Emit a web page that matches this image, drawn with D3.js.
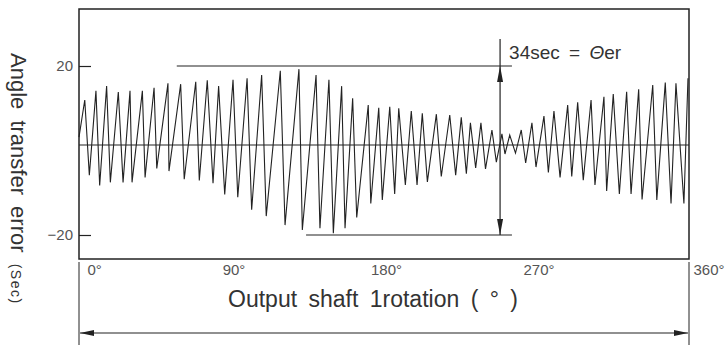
<!DOCTYPE html>
<html>
<head>
<meta charset="utf-8">
<script src="https://cdn.jsdelivr.net/npm/d3@7"></script>
<style>
  body { margin: 0; background: #fff; }
  svg { display: block; font-family: "Liberation Sans", Arial, sans-serif; }
</style>
</head>
<body>
<div id="chart"></div>
<script>
// rotation angle of the output shaft (deg)
const angles = [0, 3.4, 6.1, 10.0, 12.2, 16.3, 18.5, 23.2, 26.0, 30.1, 31.3, 37.4, 39.0, 44.3, 45.9,
  52.5, 53.1, 60.0, 62.1, 68.9, 71.0, 75.7, 79.1, 82.4, 86.0, 90.9, 93.7, 99.2, 101.9, 107.8,
  110.5, 118.8, 121.6, 129.8, 131.8, 139.9, 142.2, 147.5, 150.1, 155.0, 157.0, 161.5, 163.9,
  170.7, 172.2, 176.9, 179.0, 183.4, 186.3, 188.7, 192.6, 196.1, 199.5, 202.6, 205.6, 210.9,
  213.8, 218.8, 222.3, 225.6, 228.6, 231.0, 234.1, 237.2, 239.9, 243.7, 246.3, 249.6, 251.4,
  254.2, 257.6, 261.0, 263.6, 267.3, 269.7, 274.4, 277.0, 280.3, 283.9, 288.4, 290.8, 294.3,
  297.6, 302.2, 304.5, 309.8, 311.4, 315.3, 318.9, 323.2, 325.8, 330.3, 332.3, 338.6, 341.0,
  346.0, 349.4, 352.3, 357.0, 359.4];

// angle transfer error (sec)
const errors = [2.0, 11.4, -6.7, 13.7, -9.0, 14.9, -8.3, 13.4, -8.3, 13.7, -8.3, 13.7, -7.2, 14.5, -5.2,
  15.6, -5.8, 15.4, -7.6, 16.0, -7.9, 16.4, -8.5, 14.9, -11.0, 16.5, -11.6, 16.9, -14.4, 17.7,
  -15.8, 18.8, -17.8, 19.2, -18.9, 17.7, -18.5, 16.5, -19.6, 14.9, -18.5, 11.8, -16.1,
  10.1, -13.0, 9.4, -12.2, 9.7, -10.9, 9.3, -8.9, 8.6, -8.9, 8.0, -8.2, 7.8,
  -7.0, 7.6, -6.7, 7.0, -6.4, 5.6, -5.1, 5.6, -5.3, 3.8, -3.8, 2.8, -2.0,
  2.5, -1.8, 3.8, -4.0, 5.6, -4.9, 7.3, -6.1, 8.6, -7.2, 10.1, -7.0, 10.8,
  -7.8, 11.4, -8.9, 12.2, -10.2, 12.9, -10.9, 13.5, -10.9, 14.1, -12.1, 15.2, -12.2,
  15.8, -13.0, 15.6, -13.0, 16.9];

const xTicks = [0, 90, 180, 270, 360];
const yTicks = [-20, 20];
const errHigh = 20, errLow = -20;   // limits marked by the 34sec = Θer dimension
const errAngle = 248.5;             // where the dimension arrow sits

const width = 726, height = 353;
const box = {left: 79, right: 689, top: 9, bottom: 259};

const svg = d3.select("#chart").append("svg")
  .attr("width", width)
  .attr("height", height);

const x = d3.scaleLinear().domain([0, 360]).range([box.left, box.right]);
const y = d3.scaleLinear().domain([-20, 0, 20]).range([235, 145, 66]);

const ink = "#222";

const defs = svg.append("defs");
defs.append("marker")
  .attr("id", "head")
  .attr("viewBox", "0 0 14 6")
  .attr("refX", 14).attr("refY", 3)
  .attr("markerWidth", 14).attr("markerHeight", 6)
  .attr("markerUnits", "userSpaceOnUse")
  .attr("orient", "auto-start-reverse")
  .append("path")
  .attr("d", "M0,0 L14,3 L0,6 Z")
  .attr("fill", ink);
defs.append("marker")
  .attr("id", "headv")
  .attr("viewBox", "0 0 16 6")
  .attr("refX", 16).attr("refY", 3)
  .attr("markerWidth", 16).attr("markerHeight", 6)
  .attr("markerUnits", "userSpaceOnUse")
  .attr("orient", "auto-start-reverse")
  .append("path")
  .attr("d", "M0,0 L16,3 L0,6 Z")
  .attr("fill", ink);

// frame
svg.append("rect")
  .attr("x", box.left).attr("y", box.top)
  .attr("width", box.right - box.left).attr("height", box.bottom - box.top)
  .attr("fill", "none")
  .attr("stroke", ink)
  .attr("stroke-width", 1.5);

// y axis, ticks point inward
const yAxis = svg.append("g")
  .attr("transform", `translate(${box.left},0)`)
  .call(d3.axisLeft(y).tickValues(yTicks).tickSize(-12).tickPadding(6));
yAxis.select(".domain").remove();
yAxis.selectAll("line").attr("stroke", ink).attr("stroke-width", 1.2);
yAxis.selectAll("text")
  .attr("fill", "#555")
  .style("font-size", "15px")
  .style("font-family", "'Liberation Sans', Arial, sans-serif");

// zero line
svg.append("line")
  .attr("x1", box.left).attr("x2", box.right)
  .attr("y1", y(0)).attr("y2", y(0))
  .attr("stroke", ink).attr("stroke-width", 1.2);

// error curve
const line = d3.line()
  .x((d, i) => x(angles[i]))
  .y(d => y(d));
svg.append("path")
  .datum(errors)
  .attr("d", line)
  .attr("fill", "none")
  .attr("stroke", ink)
  .attr("stroke-width", 1.1)
  .attr("stroke-linejoin", "miter");

// dimension lines for the peak-to-peak error
svg.append("line")
  .attr("x1", x(57.7)).attr("x2", x(255.5))
  .attr("y1", y(errHigh)).attr("y2", y(errHigh))
  .attr("stroke", ink).attr("stroke-width", 1.2);
svg.append("line")
  .attr("x1", x(134)).attr("x2", x(255.5))
  .attr("y1", y(errLow)).attr("y2", y(errLow))
  .attr("stroke", ink).attr("stroke-width", 1.2);
svg.append("line")
  .attr("x1", x(errAngle)).attr("x2", x(errAngle))
  .attr("y1", 39).attr("y2", y(errHigh))
  .attr("stroke", ink).attr("stroke-width", 1.2);
svg.append("line")
  .attr("x1", x(errAngle)).attr("x2", x(errAngle))
  .attr("y1", y(errHigh)).attr("y2", y(errLow))
  .attr("stroke", ink).attr("stroke-width", 1.2)
  .attr("marker-start", "url(#headv)")
  .attr("marker-end", "url(#headv)");

const note = svg.append("text")
  .attr("x", x(errAngle) + 9).attr("y", 59)
  .attr("fill", "#333")
  .style("font-size", "19px")
  .style("word-spacing", "4px");
note.append("tspan").text("34sec = ");
note.append("tspan").style("font-style", "italic").text("Θ");
note.append("tspan").text("er");

// x axis labels under the frame
const xAxis = svg.append("g")
  .attr("transform", `translate(0,${box.bottom})`)
  .call(d3.axisBottom(x).tickValues(xTicks).tickSize(0).tickPadding(5).tickFormat(d => d + "°"));
xAxis.select(".domain").remove();
xAxis.selectAll("text")
  .attr("fill", "#555")
  .style("font-size", "15px")
  .style("font-family", "'Liberation Sans', Arial, sans-serif")
  .attr("text-anchor", (d, i) => (i === 0 || i === xTicks.length - 1) ? "start" : "middle")
  .attr("dx", (d, i) => i === 0 ? 8 : (i === xTicks.length - 1 ? 4 : 2));

// end marks and the one-rotation arrow
svg.selectAll(".endmark")
  .data([0, 360])
  .join("line")
  .attr("class", "endmark")
  .attr("x1", d => x(d)).attr("x2", d => x(d))
  .attr("y1", 262).attr("y2", 345)
  .attr("stroke", ink).attr("stroke-width", 1);
svg.append("line")
  .attr("x1", x(0) + 1).attr("x2", x(360) - 1)
  .attr("y1", 333).attr("y2", 333)
  .attr("stroke", ink).attr("stroke-width", 1.2)
  .attr("marker-start", "url(#head)")
  .attr("marker-end", "url(#head)");

svg.append("text")
  .attr("x", 373)
  .attr("y", 307)
  .attr("text-anchor", "middle")
  .attr("fill", "#333")
  .style("font-size", "23px")
  .style("word-spacing", "5px")
  .text("Output shaft 1rotation ( ° )");

// y axis title
const yTitle = svg.append("text")
  .attr("transform", "translate(11,53) rotate(90)")
  .attr("fill", "#333")
  .style("font-size", "22px")
  .style("word-spacing", "5px");
yTitle.append("tspan").text("Angle transfer error ");
yTitle.append("tspan").style("font-size", "14px").style("letter-spacing", "1.5px").text("(Sec)");
</script>
</body>
</html>
